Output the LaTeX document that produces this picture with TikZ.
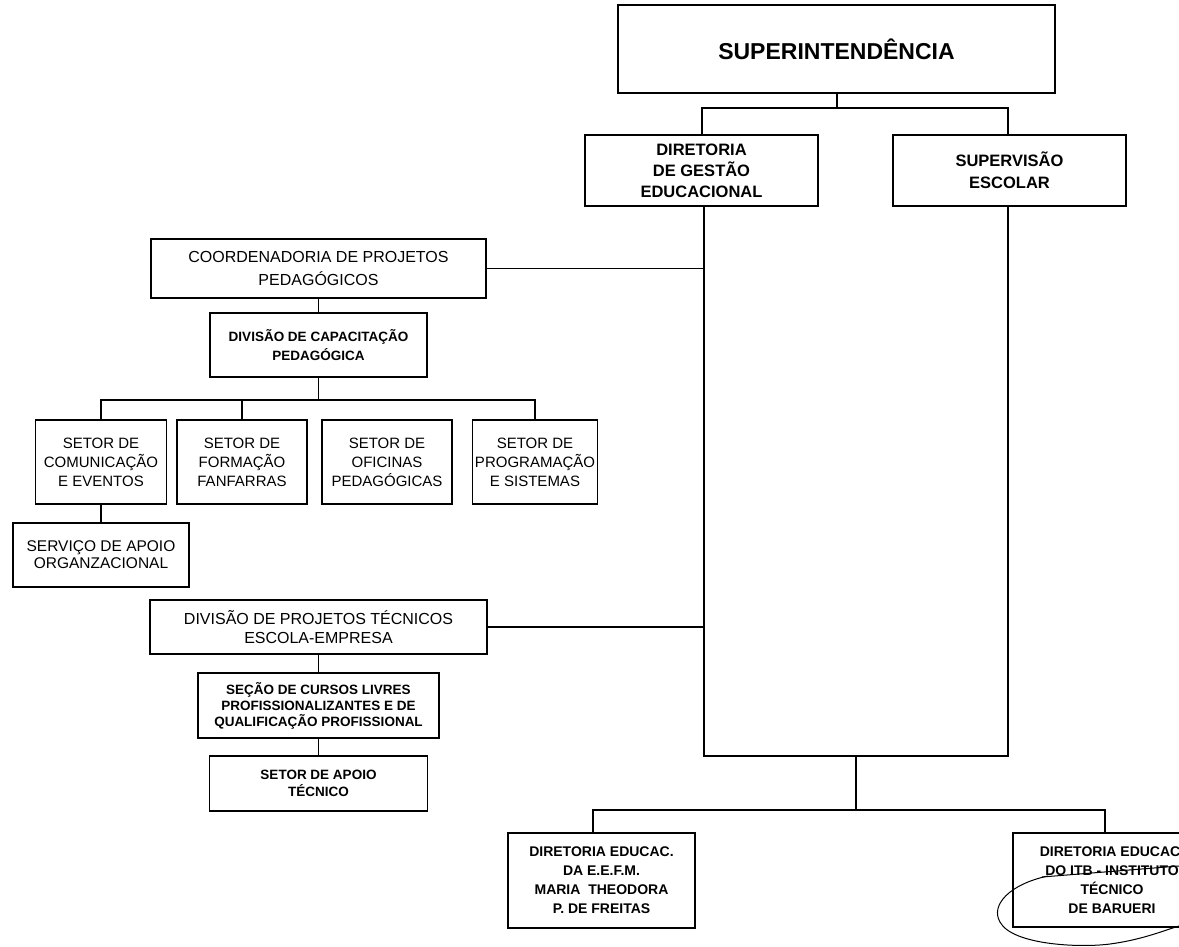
\documentclass[tikz,border=0pt]{standalone}
\usepackage{fontspec}
\setmainfont{Liberation Sans}
\begin{document}
\begin{tikzpicture}[x=1pt,y=-1pt,
    box/.style={draw,line width=1.8pt,align=center,inner sep=1pt},
    head/.style={box,font=\bfseries\fontsize{16.5}{21}\selectfont},
    plain/.style={box,font=\fontsize{16}{21}\selectfont},
    setor/.style={box,minimum width=130pt,minimum height=84pt,font=\fontsize{15}{19}\selectfont},
    small/.style={box,font=\bfseries\fontsize{13.5}{17}\selectfont},
    link/.style={line width=1.5pt}]
  \useasboundingbox (0,0) rectangle (1179,947);
  \clip (0,0) rectangle (1179,947);
  \path (836.5,49) node[box,line width=2.4pt,minimum width=437pt,minimum height=88pt,font=\bfseries\fontsize{23}{27}\selectfont] (super) {SUPERINTENDÊNCIA};
  \path (701.5,170.5) node[head,minimum width=233pt,minimum height=71pt] (dir) {DIRETORIA\\DE GESTÃO\\EDUCACIONAL};
  \path (1009.5,170.5) node[head,minimum width=233pt,minimum height=71pt,font=\bfseries\fontsize{16.5}{22}\selectfont] (sup) {SUPERVISÃO\\ESCOLAR};
  \path (318.5,268.5) node[plain,minimum width=335pt,minimum height=59pt,font=\fontsize{16}{23}\selectfont] (coord) {COORDENADORIA DE PROJETOS\\PEDAGÓGICOS};
  \path (318.5,345) node[small,minimum width=217pt,minimum height=64pt,font=\bfseries\fontsize{13.5}{19}\selectfont] (divcap) {DIVISÃO DE CAPACITAÇÃO\\PEDAGÓGICA};
  \path (101,462) node[setor,minimum width=131pt] (s1) {SETOR DE\\COMUNICAÇÃO\\E EVENTOS};
  \path (242,462) node[setor] (s2) {SETOR DE\\FORMAÇÃO\\FANFARRAS};
  \path (387,462) node[setor] (s3) {SETOR DE\\OFICINAS\\PEDAGÓGICAS};
  \path (535,462) node[setor,minimum width=125pt] (s4) {SETOR DE\\PROGRAMAÇÃO\\E SISTEMAS};
  \path (101,555) node[plain,minimum width=176pt,minimum height=64pt,font=\fontsize{15.5}{17}\selectfont] (servico) {SERVIÇO DE APOIO\\ORGANZACIONAL};
  \path (318.5,627) node[plain,minimum width=337pt,minimum height=54pt,font=\fontsize{16}{19}\selectfont] (divproj) {DIVISÃO DE PROJETOS TÉCNICOS\\ESCOLA-EMPRESA};
  \path (318.5,705.5) node[small,minimum width=241pt,minimum height=65pt,font=\bfseries\fontsize{13.5}{16}\selectfont] (secao) {SEÇÃO DE CURSOS LIVRES\\PROFISSIONALIZANTES E DE\\QUALIFICAÇÃO PROFISSIONAL};
  \path (318.5,783.5) node[small,minimum width=218pt,minimum height=55pt] (apoio) {SETOR DE APOIO\\TÉCNICO};
  \path (601.5,880.5) node[small,minimum width=187pt,minimum height=95pt,font=\bfseries\fontsize{14}{19}\selectfont] (edu1) {DIRETORIA EDUCAC.\\DA E.E.F.M.\\MARIA\ \ THEODORA\\P. DE FREITAS};
  \path (1112,880) node[small,minimum width=198pt,minimum height=94pt,font=\bfseries\fontsize{14}{19}\selectfont] (edu2) {DIRETORIA EDUCAC.\\DO ITB - INSTITUTO\\TÉCNICO\\DE BARUERI};
  \coordinate (j0) at (837,108);
  \coordinate (t1) at (702,108);
  \coordinate (t2) at (1008,108);
  \coordinate (r1) at (704,756);
  \coordinate (r2) at (1008,756);
  \coordinate (b0) at (856,810);
  \coordinate (b1) at (593,810);
  \coordinate (b2) at (1105,810);
  \coordinate (h1) at (101,400);
  \coordinate (h2) at (242,400);
  \coordinate (h3) at (535,400);
  \draw[link] (super.south -| j0) -- (j0);
  \draw[link] (dir.north -| t1) -- (t1) -- (t2) -- (sup.north -| t2);
  \draw[link] (dir.south -| r1) -- (r1) -- (r2) -- (sup.south -| r2);
  \draw[link] (coord.east) -- (coord.east -| r1);
  \draw[link] (divproj.east) -- (divproj.east -| r1);
  \draw[link] (coord) -- (divcap);
  \draw[link] (divcap.south) -- (divcap.south |- h1);
  \draw[link] (s1.north) -- (h1) -- (h3) -- (s4.north);
  \draw[link] (s2.north) -- (h2);
  \draw[link] (s1) -- (servico);
  \draw[link] (divproj) -- (secao);
  \draw[link] (secao) -- (apoio);
  \draw[link] (b0 |- r1) -- (b0);
  \draw[link] (edu1.north -| b1) -- (b1) -- (b2) -- (edu2.north -| b2);
  \draw[line width=1pt] (1042,877) -- (1179,866);
  \draw[line width=1pt] (1048,876) .. controls (1010,884) and (990,905) .. (1000,922) .. controls (1012,945) and (1080,948) .. (1110,944) .. controls (1140,940) and (1160,932) .. (1179,926);
\end{tikzpicture}
\end{document}
